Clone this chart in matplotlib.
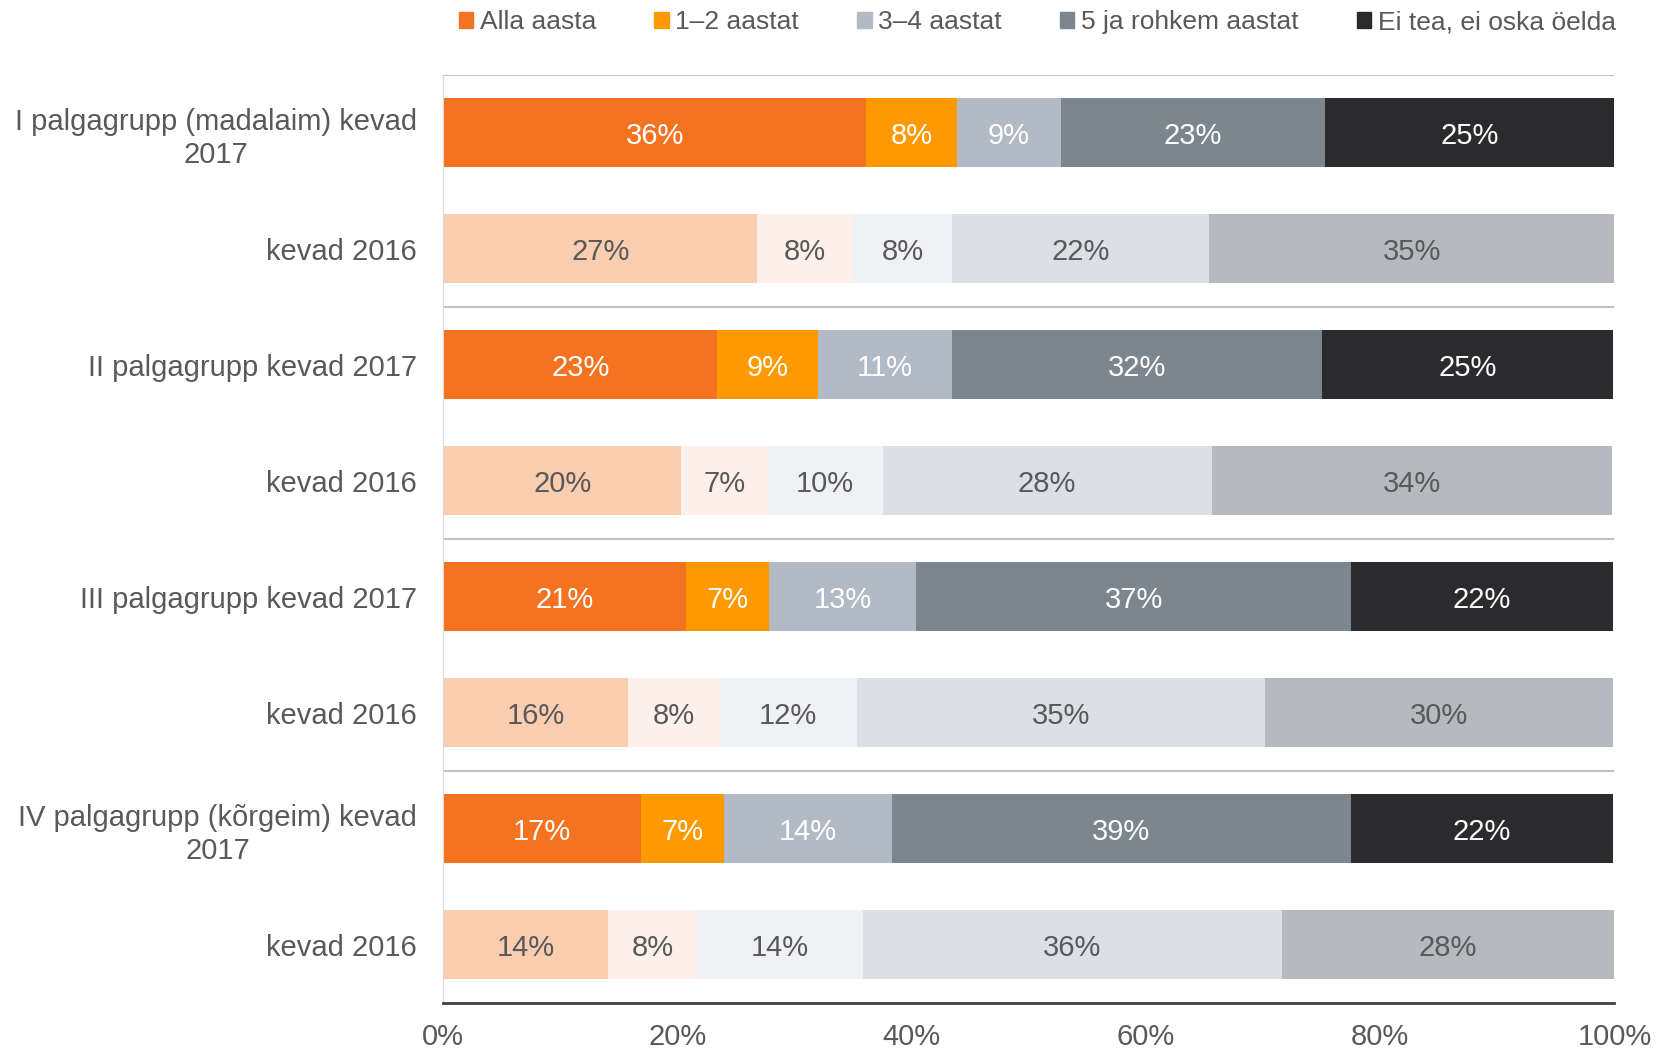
import matplotlib
matplotlib.use("Agg")
import matplotlib.pyplot as plt
import numpy as np

plt.rcParams['font.family'] = ['Liberation Sans', 'DejaVu Sans']

rows = ["I palgagrupp (madalaim) kevad\n2017", "kevad 2016",
        "II palgagrupp kevad 2017", "kevad 2016",
        "III palgagrupp kevad 2017", "kevad 2016",
        "IV palgagrupp (kõrgeim) kevad\n2017", "kevad 2016"]
series = ["Alla aasta", "1–2 aastat", "3–4 aastat", "5 ja rohkem aastat", "Ei tea, ei oska öelda"]

# one list per answer category, same order as rows
alla_aasta = [36.1, 26.8, 23.4, 20.3, 20.7, 15.8, 16.9, 14.1]
aastat_1_2 = [7.8, 8.2, 8.6, 7.4, 7.1, 7.8, 7.1, 7.6]
aastat_3_4 = [8.8, 8.4, 11.4, 9.8, 12.6, 11.7, 14.3, 14.1]
aastat_5 = [22.6, 22.0, 31.6, 28.1, 37.1, 34.9, 39.2, 35.8]
ei_tea = [24.7, 34.7, 24.9, 34.2, 22.4, 29.7, 22.4, 28.4]

colors_2017 = ["#F37321", "#FF9900", "#B2BAC6", "#7B868F", "#2B2B2D"]
colors_2016 = ["#F9CDB0", "#FDF0EA", "#F0F1F4", "#DCE0E6", "#B6B9BD"]

data = np.array([alla_aasta, aastat_1_2, aastat_3_4, aastat_5, ei_tea])

fig = plt.figure(figsize=(16.73, 10.51), dpi=100)
ax = fig.add_axes([0.265, 0.046, 0.7, 0.883])

y = np.arange(len(rows))
left = np.zeros(len(rows))
for i, name in enumerate(series):
    cols = [colors_2017[i] if r % 2 == 0 else colors_2016[i] for r in range(len(rows))]
    bars = ax.barh(y, data[i], left=left, height=0.59, color=cols, label=name)
    for r, b in enumerate(bars):
        tc = "white" if r % 2 == 0 else "#595959"
        ax.text(left[r] + data[i][r] / 2, r, f"{round(data[i][r])}%", ha='center', va='center_baseline',
                color=tc, fontsize=21)
    left += data[i]

ax.set_xlim(0, 100)
ax.set_ylim(7.5, -0.5)
ax.set_yticks(y)
ax.set_yticklabels(rows, fontsize=21, color="#595959", multialignment='center', linespacing=1.25)
ax.set_xticks([0, 20, 40, 60, 80, 100])
ax.set_xticklabels(["0%", "20%", "40%", "60%", "80%", "100%"], fontsize=21, color="#595959")
ax.tick_params(length=0)
ax.tick_params(axis='y', pad=19)
ax.tick_params(axis='x', pad=15)

for s in ['top', 'right']:
    ax.spines[s].set_visible(False)
ax.spines['left'].set_color("#D9D9D9")
ax.spines['bottom'].set_color("#404040")
ax.spines['bottom'].set_linewidth(2)

for yy in [-0.5, 1.5, 3.5, 5.5]:
    ax.axhline(yy, color="#BFBFBF", lw=1.5, zorder=0)

handles = [plt.Rectangle((0, 0), 1, 1, color=c) for c in colors_2017]
fig.legend(handles, series, loc='center', bbox_to_anchor=(0.62, 0.979), ncol=5, frameon=False,
           fontsize=19, handlelength=0.55, handleheight=0.55, handletextpad=0.25, columnspacing=2.2,
           labelcolor="#595959")

fig.savefig("out.png")
